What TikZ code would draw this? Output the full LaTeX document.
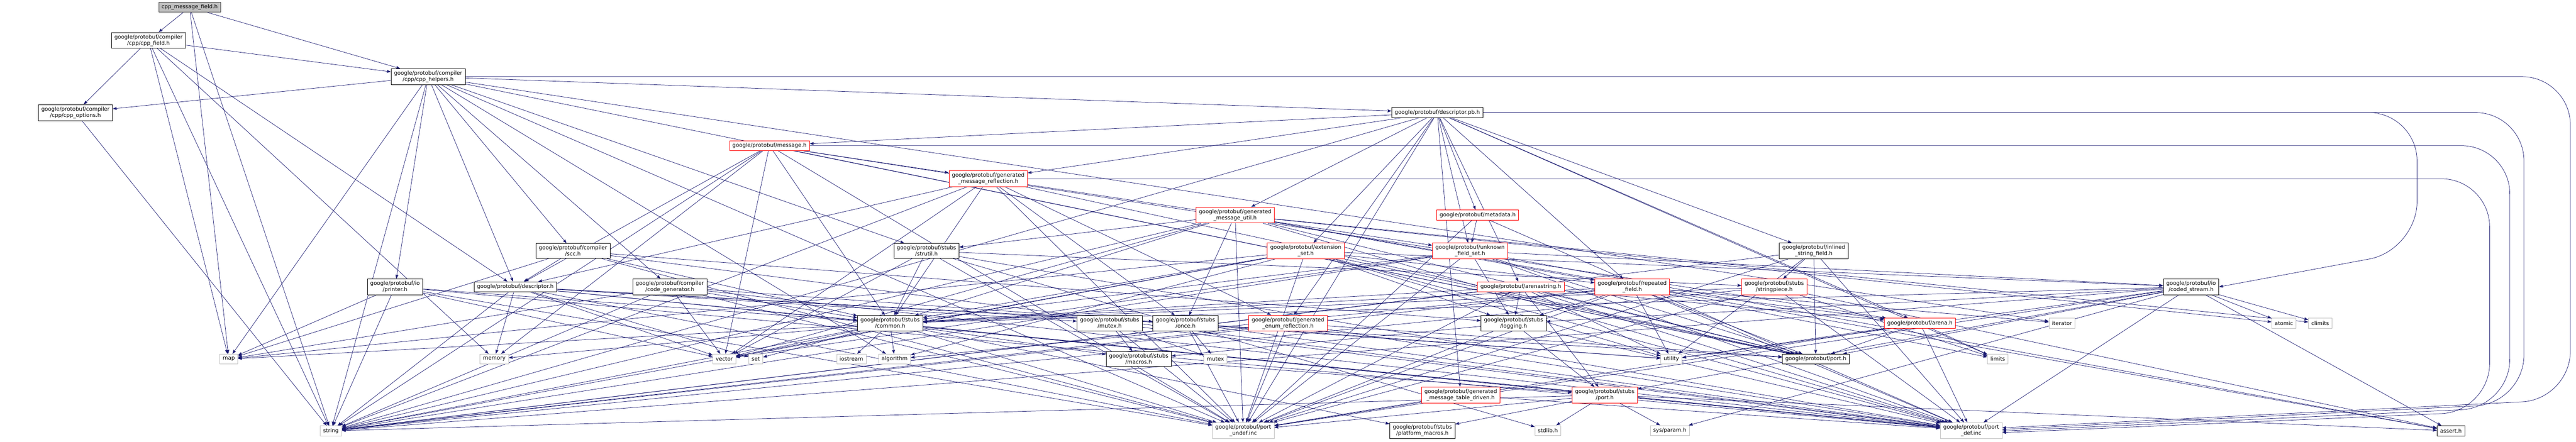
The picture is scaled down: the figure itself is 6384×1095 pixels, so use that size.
\documentclass[tikz,border=0pt]{standalone}
\usepackage{fontspec}
\setmainfont{DejaVu Sans}
\usetikzlibrary{arrows.meta}
\definecolor{edgeblue}{RGB}{25,25,112}
\definecolor{sysgray}{RGB}{191,191,191}
\pgfdeclarelayer{background}
\pgfsetlayers{background,main}
\tikzset{
	hdr/.style={draw=black, fill=white, line width=0.75pt, align=center, inner xsep=5.5pt, inner ysep=4pt, minimum height=18.75pt, font=\fontsize{10}{11.5}\selectfont},
	trunc/.style={hdr, draw=red},
	sys/.style={hdr, draw=sysgray},
	root/.style={hdr, fill=sysgray, draw=black!75},
	dep/.style={draw=edgeblue, line width=0.7pt, ->},
	loop/.style={dep, rounded corners=90pt}
}
\begin{document}
\begin{tikzpicture}[x=0.75pt, y=-0.75pt, >={Stealth[length=7.5pt,width=5.5pt,inset=1pt]}, line join=round]
	\useasboundingbox (0,0) rectangle (6384,1095);
	% rang 0 - 3
	\node[root] (cmf) at (470,18) {cpp\_message\_field.h};
	\node[hdr] (cppfield) at (368,100) {google/protobuf/compiler\\/cpp/cpp\_field.h};
	\node[hdr] (cpphelpers) at (1061,190) {google/protobuf/compiler\\/cpp/cpp\_helpers.h};
	\node[hdr] (cppoptions) at (187,279) {google/protobuf/compiler\\/cpp/cpp\_options.h};
	\node[hdr] (descpb) at (3562,279) {google/protobuf/descriptor.pb.h};
	% rang 4 - 6
	\node[trunc] (message) at (1907,361) {google/protobuf/message.h};
	\node[trunc] (gmr) at (2449,443) {google/protobuf/generated\\\_message\_reflection.h};
	\node[trunc] (gmu) at (3061,533) {google/protobuf/generated\\\_message\_util.h};
	\node[trunc] (metadata) at (3662,533) {google/protobuf/metadata.h};
	% rang 7
	\node[hdr] (scc) at (1420,622) {google/protobuf/compiler\\/scc.h};
	\node[hdr] (strutil) at (2296,622) {google/protobuf/stubs\\/strutil.h};
	\node[trunc] (extset) at (3236,622) {google/protobuf/extension\\\_set.h};
	\node[trunc] (ufs) at (3643,622) {google/protobuf/unknown\\\_field\_set.h};
	\node[hdr] (inlined) at (4495,622) {google/protobuf/inlined\\\_string\_field.h};
	% rang 8
	\node[hdr] (printer) at (979,711) {google/protobuf/io\\/printer.h};
	\node[hdr] (descriptor) at (1277,711) {google/protobuf/descriptor.h};
	\node[hdr] (codegen) at (1660,711) {google/protobuf/compiler\\/code\_generator.h};
	\node[trunc] (arenastring) at (3769,711) {google/protobuf/arenastring.h};
	\node[trunc] (repfield) at (4045,711) {google/protobuf/repeated\\\_field.h};
	\node[trunc] (stringpiece) at (4397,711) {google/protobuf/stubs\\/stringpiece.h};
	\node[hdr] (coded) at (5430,711) {google/protobuf/io\\/coded\_stream.h};
	% rang 9
	\node[hdr] (common) at (2206,801) {google/protobuf/stubs\\/common.h};
	\node[hdr] (mutexh) at (2750,801) {google/protobuf/stubs\\/mutex.h};
	\node[hdr] (once) at (2938,801) {google/protobuf/stubs\\/once.h};
	\node[trunc] (enumrefl) at (3192,801) {google/protobuf/generated\\\_enum\_reflection.h};
	\node[hdr] (logging) at (3751,801) {google/protobuf/stubs\\/logging.h};
	\node[trunc] (arena) at (4758,801) {google/protobuf/arena.h};
	\node[sys] (iterator) at (5110,801) {iterator};
	\node[sys] (atomic) at (5660,801) {atomic};
	\node[sys] (climits) at (5750,801) {climits};
	% rang 10
	\node[sys] (map) at (567,890) {map};
	\node[sys] (memory) at (1225,890) {memory};
	\node[sys] (vector) at (1795,890) {vector};
	\node[sys] (set) at (1873,890) {set};
	\node[sys] (iostream) at (2110,890) {iostream};
	\node[sys] (algorithm) at (2217,890) {algorithm};
	\node[hdr] (macros) at (2822,890) {google/protobuf/stubs\\/macros.h};
	\node[sys] (mutex) at (3012,890) {mutex};
	\node[sys] (utility) at (4142,890) {utility};
	\node[hdr] (port) at (4500,890) {google/protobuf/port.h};
	\node[sys] (limits) at (4951,890) {limits};
	% rang 11 - 12
	\node[trunc] (tabledriven) at (3620,979) {google/protobuf/generated\\\_message\_table\_driven.h};
	\node[trunc] (stubsport) at (3977,979) {google/protobuf/stubs\\/port.h};
	\node[sys] (string) at (820,1068) {string};
	\node[hdr] (platform) at (3525,1067) {google/protobuf/stubs\\/platform\_macros.h};
	\node[sys] (stdlib) at (3836,1067) {stdlib.h};
	\node[sys] (sysparam) at (4138,1067) {sys/param.h};
	\node[sys] (portundef) at (3081,1067) {google/protobuf/port\\\_undef.inc};
	\node[sys] (portdef) at (4885,1067) {google/protobuf/port\\\_def.inc};
	\node[hdr] (assert) at (6074,1068) {assert.h};
	\begin{pgfonlayer}{background}
		\foreach \tgt in {map,string,cppfield,cpphelpers} \draw[dep] (cmf) -- (\tgt);
		\foreach \tgt in {cpphelpers,cppoptions,map,memory,string,descriptor} \draw[dep] (cppfield) -- (\tgt);
		\foreach \tgt in {cppoptions,scc,codegen,descpb,printer,descriptor,port,strutil,algorithm,iterator,map,string,portundef} \draw[dep] (cpphelpers) -- (\tgt);
		\draw[dep] (cppoptions) -- (string);
		\foreach \tgt in {limits,string,arena,arenastring,tabledriven,gmu,inlined,metadata,gmr,message,repfield,extset,enumrefl,ufs,portundef} \draw[dep] (descpb) -- (\tgt);
		\foreach \tgt in {descriptor,gmr,common,arena,port,memory,vector,string,portundef} \draw[dep] (message) -- (\tgt);
		\foreach \tgt in {descriptor,enumrefl,once,ufs,common,port,string,vector,portundef} \draw[dep] (gmr) -- (\tgt);
		\foreach \tgt in {strutil,once,common,repfield,port,assert,atomic,climits,string,vector,portdef,portundef} \draw[dep] (gmu) -- (\tgt);
		\foreach \tgt in {ufs,portdef,portundef} \draw[dep] (metadata) -- (\tgt);
		\foreach \tgt in {descriptor,common,logging,map,portdef,portundef} \draw[dep] (scc) -- (\tgt);
		\foreach \tgt in {common,stringpiece,stdlib,vector,portdef,portundef} \draw[dep] (strutil) -- (\tgt);
		\foreach \tgt in {coded,repfield,common,logging,port,algorithm,map,string,utility,vector,portdef,portundef} \draw[dep] (extset) -- (\tgt);
		\foreach \tgt in {coded,common,logging,port,assert,string,vector,portdef,portundef} \draw[dep] (ufs) -- (\tgt);
		\foreach \tgt in {stringpiece,port,string,utility,portdef,portundef} \draw[dep] (inlined) -- (\tgt);
		\foreach \tgt in {common,map,string,vector,portdef,portundef} \draw[dep] (printer) -- (\tgt);
		\foreach \tgt in {common,mutexh,once,port,memory,set,string,vector,portdef,portundef} \draw[dep] (descriptor) -- (\tgt);
		\foreach \tgt in {common,map,string,utility,vector,portdef,portundef} \draw[dep] (codegen) -- (\tgt);
		\foreach \tgt in {arena,logging,common,port,stubsport,string,utility,portdef,portundef} \draw[dep] (arenastring) -- (\tgt);
		\foreach \tgt in {arena,logging,common,port,algorithm,iterator,limits,string,utility,portdef,portundef} \draw[dep] (repfield) -- (\tgt);
		\foreach \tgt in {common,assert,limits,string,portdef,portundef} \draw[dep] (stringpiece) -- (\tgt);
		\foreach \tgt in {common,logging,port,stubsport,assert,atomic,climits,string,utility,sysparam,portdef,portundef} \draw[dep] (coded) -- (\tgt);
		\foreach \tgt in {macros,stubsport,platform,algorithm,iostream,map,memory,set,string,vector,portdef,portundef} \draw[dep] (common) -- (\tgt);
		\foreach \tgt in {macros,mutex,portdef,portundef} \draw[dep] (mutexh) -- (\tgt);
		\foreach \tgt in {mutex,utility,portdef,portundef} \draw[dep] (once) -- (\tgt);
		\foreach \tgt in {port,string,portdef,portundef} \draw[dep] (enumrefl) -- (\tgt);
		\foreach \tgt in {macros,stubsport,portdef,portundef} \draw[dep] (logging) -- (\tgt);
		\foreach \tgt in {port,limits,utility,portdef,portundef} \draw[dep] (arena) -- (\tgt);
		\draw[dep] (macros) -- (stubsport);
		\foreach \tgt in {portdef,portundef} \draw[dep] (tabledriven) -- (\tgt);
		\foreach \tgt in {platform,stdlib,sysparam,assert,string,portdef,portundef} \draw[dep] (stubsport) -- (\tgt);
		% lange Bogen rechts herum
		\draw[loop] (cpphelpers.east) -| (6370,990) -- ([yshift=5pt]portdef.east);
		\draw[loop] (descpb.east) -| (6255,1000) -- ([yshift=2pt]portdef.east);
		\draw[loop] (message.east) -| (6220,1010) -- ([yshift=-1pt]portdef.east);
		\draw[loop] (gmr.east) -| (6170,1020) -- ([yshift=-4pt]portdef.east);
		\draw[loop] (descpb.east) -| (5990,620) -- (coded.east);
	\end{pgfonlayer}
\end{tikzpicture}
\end{document}
